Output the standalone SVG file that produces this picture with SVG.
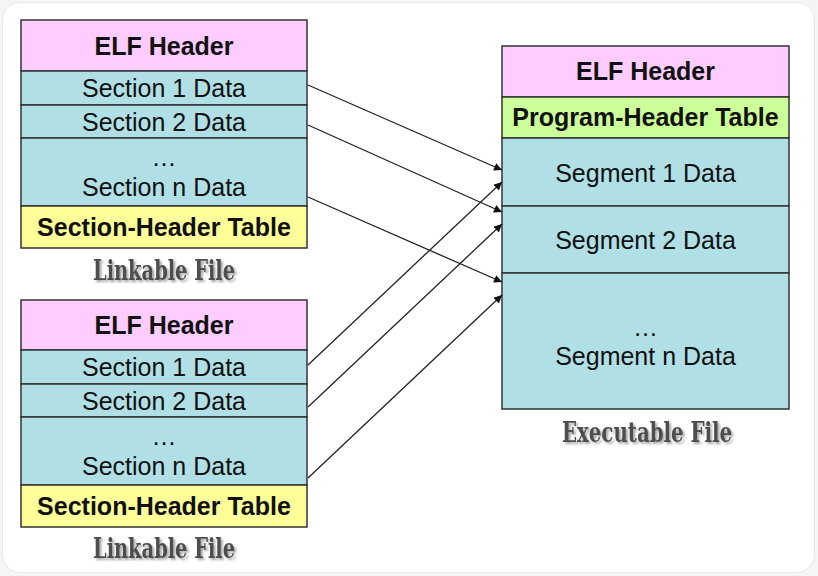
<svg xmlns="http://www.w3.org/2000/svg" width="818" height="576" viewBox="0 0 818 576">
<defs>
<style>
.box{stroke:#333;stroke-width:1.5}
.pink{fill:#FFCCFF}.cyan{fill:#B0E0E6}.yel{fill:#FFFF99}.grn{fill:#CCFF99}
.t{font-family:"Liberation Sans",Arial,sans-serif;font-size:25px;fill:#111;text-anchor:middle}
.b{font-weight:bold}
.lbl{font-family:"DejaVu Serif","Liberation Serif",serif;font-stretch:condensed;font-weight:bold;font-size:28px;fill:#4d4d4d;filter:url(#sh)}
.conn line{stroke:#222;stroke-width:1.3;marker-end:url(#ah)}
</style>
<filter id="sh" x="-10%" y="-30%" width="130%" height="170%">
<feDropShadow dx="2" dy="2" stdDeviation="1.2" flood-color="#000" flood-opacity="0.35"/>
</filter>
<marker id="ah" viewBox="0 0 10 10" refX="10" refY="5" markerWidth="9" markerHeight="8" markerUnits="userSpaceOnUse" orient="auto">
<path d="M0,0 L10,5 L0,10 z" fill="#111"/>
</marker>
</defs>
<rect x="0" y="0" width="818" height="576" fill="#f5f5f5"/>
<rect x="2.5" y="2.5" width="812" height="570" rx="18" fill="#fff" stroke="#e8e8e8"/>

<g id="linkable1">
<rect class="box pink" x="21" y="20" width="286" height="51"/>
<rect class="box cyan" x="21" y="71" width="286" height="34"/>
<rect class="box cyan" x="21" y="105" width="286" height="33"/>
<rect class="box cyan" x="21" y="138" width="286" height="68"/>
<rect class="box yel" x="21" y="206" width="286" height="42"/>
<text class="t b" x="164" y="55">ELF Header</text>
<text class="t" x="164" y="97">Section 1 Data</text>
<text class="t" x="164" y="131">Section 2 Data</text>
<text class="t" x="164" y="166">…</text>
<text class="t" x="164" y="196">Section n Data</text>
<text class="t b" x="164" y="236">Section-Header Table</text>
<text class="lbl" x="93" y="280" textLength="142" lengthAdjust="spacingAndGlyphs">Linkable File</text>
</g>

<g id="linkable2">
<rect class="box pink" x="21" y="300" width="286" height="50"/>
<rect class="box cyan" x="21" y="350" width="286" height="34"/>
<rect class="box cyan" x="21" y="384" width="286" height="33"/>
<rect class="box cyan" x="21" y="417" width="286" height="68"/>
<rect class="box yel" x="21" y="485" width="286" height="42"/>
<text class="t b" x="164" y="334">ELF Header</text>
<text class="t" x="164" y="376">Section 1 Data</text>
<text class="t" x="164" y="410">Section 2 Data</text>
<text class="t" x="164" y="445">…</text>
<text class="t" x="164" y="475">Section n Data</text>
<text class="t b" x="164" y="515">Section-Header Table</text>
<text class="lbl" x="93" y="558" textLength="142" lengthAdjust="spacingAndGlyphs">Linkable File</text>
</g>

<g id="executable">
<rect class="box pink" x="502" y="46" width="287" height="51"/>
<rect class="box grn" x="502" y="97" width="287" height="41"/>
<rect class="box cyan" x="502" y="138" width="287" height="68"/>
<rect class="box cyan" x="502" y="206" width="287" height="67"/>
<rect class="box cyan" x="502" y="273" width="287" height="136"/>
<text class="t b" x="645.5" y="80">ELF Header</text>
<text class="t b" x="645.5" y="126">Program-Header Table</text>
<text class="t" x="645.5" y="182">Segment 1 Data</text>
<text class="t" x="645.5" y="249">Segment 2 Data</text>
<text class="t" x="645.5" y="336">…</text>
<text class="t" x="645.5" y="365">Segment n Data</text>
<text class="lbl" x="562" y="442" textLength="170" lengthAdjust="spacingAndGlyphs">Executable File</text>
</g>

<g id="connectors" class="conn">
<line x1="308" y1="85" x2="502" y2="170"/>
<line x1="308" y1="125" x2="502" y2="212"/>
<line x1="308" y1="197" x2="502" y2="282"/>
<line x1="308" y1="365" x2="502" y2="182"/>
<line x1="308" y1="407" x2="502" y2="224"/>
<line x1="308" y1="478" x2="502" y2="295"/>
</g>
</svg>
